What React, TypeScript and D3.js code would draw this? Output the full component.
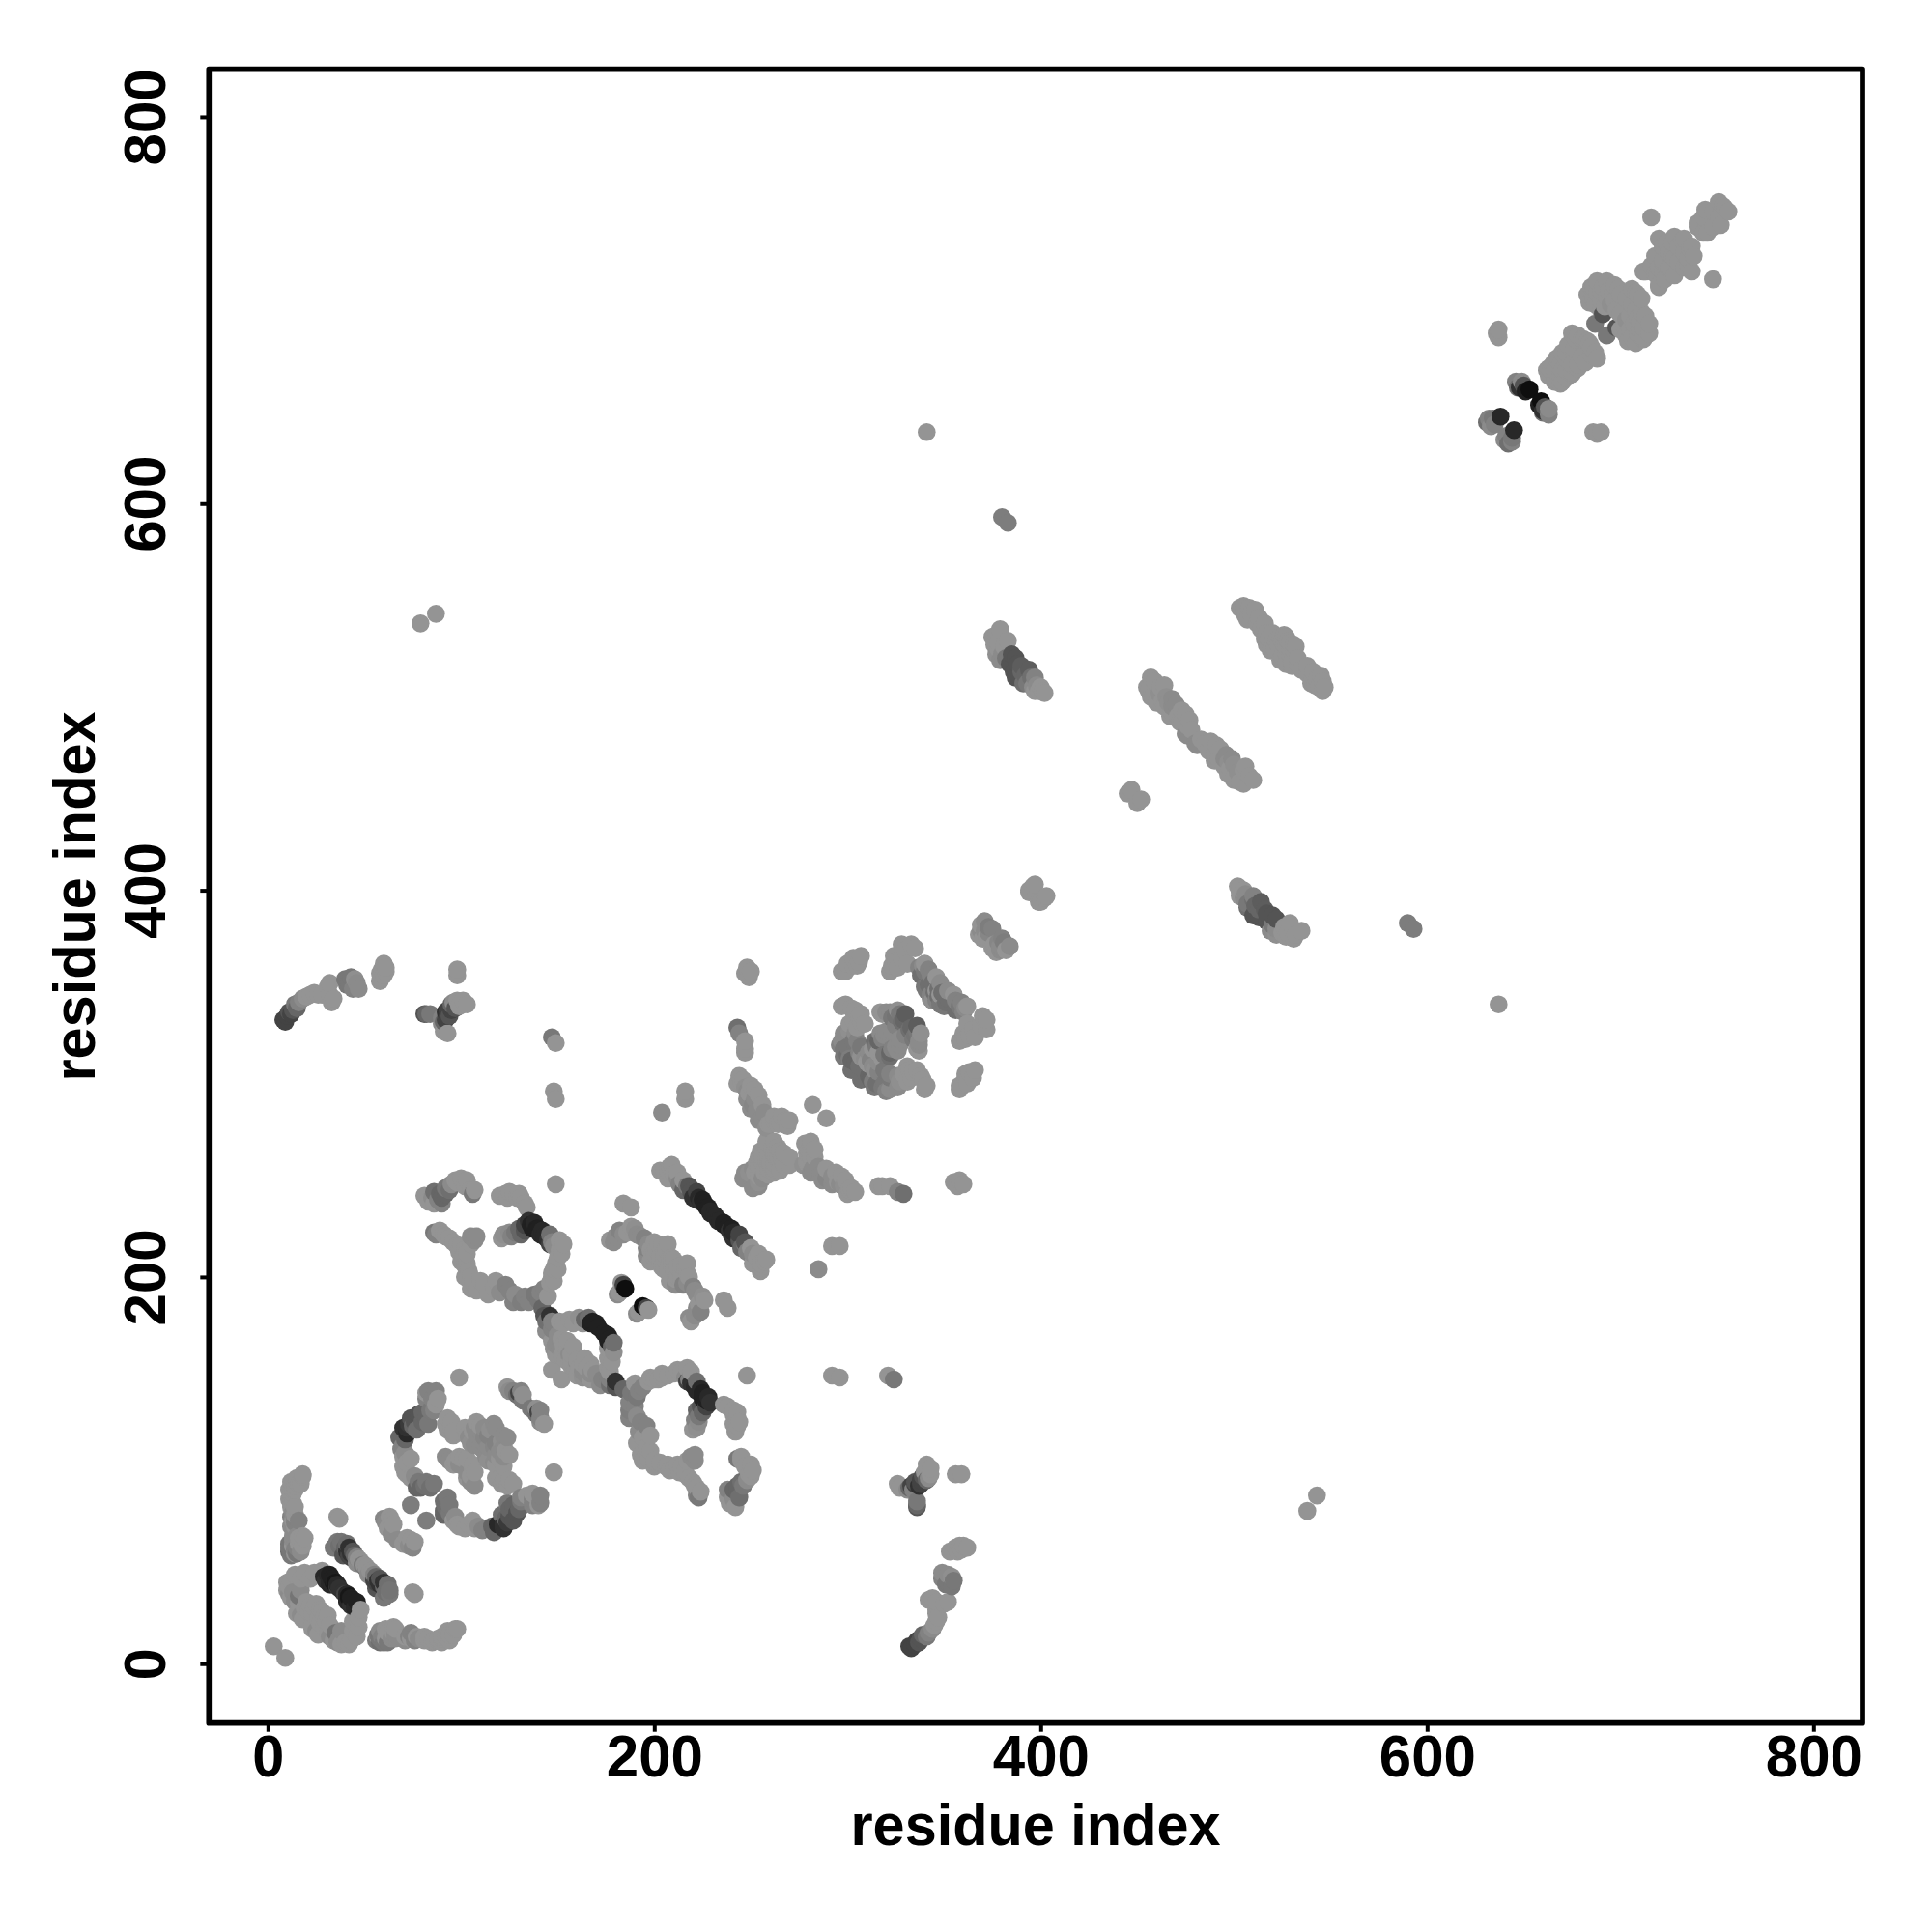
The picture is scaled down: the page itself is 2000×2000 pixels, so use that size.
import { useEffect, useRef } from "react";
import * as d3 from "d3";

// [residue i, residue j, darkness 0..1], i < j, the map is symmetric
type Contact = [number, number, number];

const tickValues = [0, 200, 400, 600, 800];
const axisTitle = "residue index";

const earlyContacts: Contact[] = [
  [3, 9, 0], [10, 42, 0], [14, 46, 0], [19, 47, 0], [24, 47, 0], [11, 40, 0], [12, 34, 0], [16, 35, 0.35],
  [16, 31, 0], [18, 23, 0], [15, 26, 0], [20, 32, 0], [25, 31, 0], [23, 26, 0], [19, 29, 0],
  [22, 44, 0], [17, 44, 0], [12, 43, 0], [10, 38, 0], [13, 37, 0.1], [14, 32, 0.1], [17, 25, 0.1], [20, 23, 0],
  [21, 27, 0], [22, 30, 0], [24, 29, 0], [27, 28, 0], [17, 38, 0.1], [11, 36, 0.1],
  [28, 48, 0], [31, 46, 0.85], [33, 44, 0.9], [35, 42, 0.95], [30, 43, 0.8], [32, 41, 0.85], [36, 40, 0.7],
  [29, 45, 0.85], [32, 46, 0.9], [34, 42, 0.95], [34, 43, 0.9], [33, 41, 0.85], [36, 41, 0.85], [37, 39, 0.8],
  [36, 76, 0], [37, 75, 0], [36, 63, 0.3], [38, 63, 0.35], [34, 60, 0.3], [41, 62, 0.4], [41, 58, 0.8],
  [43, 57, 0.8], [39, 56, 0.6], [45, 56, 0.5], [47, 54, 0.02], [50, 51, 0.02],
  [37, 61, 0.4], [40, 60, 0.5], [42, 60, 0.8], [42, 56, 0.7], [44, 58, 0.6], [46, 55, 0.2], [46, 52, 0.1],
  [48, 53, 0.02], [49, 51, 0.3], [43, 55, 0.7],
  [18, 98, 0], [15, 96, 0], [12, 94, 0], [11, 90, 0], [11, 85, 0], [14, 81, 0], [14, 76, 0.2], [14, 73, 0.2],
  [19, 65, 0], [12, 61, 0.3], [14, 59, 0.2], [17, 58, 0.1], [16, 62, 0],
  [13, 88, 0], [12, 83, 0], [13, 78, 0.1], [16, 74, 0.2], [17, 93, 0], [14, 90, 0], [13, 64, 0.1], [15, 60, 0.2],
  [12, 59, 0.3], [15, 57, 0.3], [16, 65, 0], [18, 61, 0], [16, 93, 0],
  [18, 97, 0], [14, 92, 0], [12, 88, 0], [12, 81, 0], [14, 77, 0], [14, 71, 0], [18, 66, 0], [13, 61, 0], [14, 57, 0],
  [13, 66, 0.1], [11, 62, 0.3], [11, 58, 0.4], [15, 66, 0.1], [11, 60, 0.3], [13, 58, 0.3], [12, 56, 0.3],
  [13, 74, 0], [12, 71, 0.1], [12, 76, 0.2], [13, 83, 0], [12, 86, 0], [13, 90, 0], [15, 94, 0],
  [63, 76, 0], [60, 75, 0.15], [65, 72, 0], [62, 70, 0], [64, 67, 0.1], [74, 82, 0.25], [61, 73, 0.1], [64, 74, 0],
];

const ringContacts: Contact[] = [
  [83, 141, 0.2], [87, 141, 0.2], [82, 140, 0], [87, 134, 0], [84, 131, 0.3], [78, 129, 0.6], [82, 127, 0.5],
  [74, 127, 0.6], [70, 122, 0.8], [72, 119, 0.85], [77, 121, 0.4], [83, 124, 0.3], [68, 117, 0.5], [70, 113, 0.2],
  [74, 106, 0], [70, 102, 0], [70, 107, 0], [74, 96, 0], [78, 94, 0.3], [77, 91, 0.5], [84, 91, 0.4], [82, 94, 0.3],
  [82, 137, 0.2], [85, 137, 0.2], [88, 137, 0], [86, 131, 0.2], [80, 130, 0.5], [76, 125, 0.6], [73, 124, 0.75],
  [72, 122, 0.8], [75, 123, 0.5], [80, 125, 0.5], [71, 116, 0.5], [69, 111, 0.2], [71, 109, 0.1], [72, 104, 0],
  [71, 99, 0], [72, 98, 0], [76, 97, 0.1], [81, 92, 0.4], [79, 91, 0.5], [86, 93, 0.3],
  [95, 122, 0], [93, 127, 0], [96, 118, 0], [97, 105, 0], [94, 105, 0.1], [101, 106, 0], [107, 122, 0.1],
  [110, 123, 0], [117, 124, 0.1], [105, 114, 0.05], [112, 117, 0.15], [103, 118, 0], [112, 114, 0.1],
  [93, 121, 0], [95, 125, 0], [92, 124, 0], [96, 120, 0], [92, 107, 0.1], [96, 103, 0], [99, 103, 0.1], [103, 106, 0],
  [99, 107, 0], [106, 120, 0], [108, 125, 0], [112, 122, 0.1], [115, 121, 0.05], [118, 122, 0.1], [104, 117, 0.1],
  [108, 118, 0.1], [107, 113, 0.1], [110, 112, 0.1], [114, 118, 0.2], [102, 122, 0], [110, 120, 0.1],
  [124, 143, 0], [127, 141, 0.2], [132, 139, 0.05], [130, 140, 0.7], [99, 148, 0], [147, 152, 0],
  [125, 141, 0.1], [129, 139, 0.4], [131, 141, 0.2], [132, 136, 0.3],
];

const middleContacts: Contact[] = [
  [105, 194, 0], [112, 196, 0], [117, 194, 0], [123, 196, 0.2], [128, 191, 0.1], [131, 187, 0.25], [138, 191, 0.3],
  [143, 194, 0.2], [147, 200, 0], [142, 184, 0.5], [146, 180, 0.8], [148, 176, 0.2], [156, 178, 0], [161, 179, 0.05],
  [102, 200, 0], [106, 197, 0], [108, 193, 0], [110, 198, 0], [114, 191, 0], [118, 198, 0], [120, 192, 0.1],
  [125, 193, 0.2], [127, 187, 0.2], [133, 190, 0.2], [135, 187, 0.2], [140, 188, 0.3], [141, 192, 0.2], [145, 190, 0],
  [146, 197, 0], [148, 198, 0],
  [166, 179, 0.4], [168, 177, 0.9], [170, 176, 0.9], [144, 172, 0.1], [147, 177, 0.2], [151, 177, 0],
  [143, 180, 0.6], [144, 177, 0.4], [147, 173, 0.2], [153, 176, 0], [158, 176, 0], [163, 176, 0], [164, 178, 0.5],
  [167, 176, 0.9], [171, 174, 0.9],
  [147, 167, 0], [155, 167, 0], [158, 164, 0], [153, 161, 0], [151, 163, 0.1], [152, 159, 0], [156, 157, 0],
  [149, 165, 0.1], [150, 170, 0.1], [152, 168, 0], [155, 163, 0], [157, 160, 0], [149, 160, 0], [148, 163, 0.05],
  [154, 157, 0], [153, 165, 0], [150, 167, 0.1], [156, 160, 0.1],
  [183, 197, 0], [182, 192, 0], [181, 191, 0.1], [185, 194, 1], [184, 196, 0.7],
  [81, 242, 0], [85, 241, 0.1], [88, 240, 0.2], [92, 243, 0.5], [94, 245, 0.4], [97, 250, 0], [100, 251, 0],
  [103, 250, 0], [106, 243, 0.3], [107, 245, 0], [123, 243, 0], [127, 243, 0], [131, 241, 0], [134, 236, 0],
  [86, 244, 0.4], [89, 243, 0.5], [90, 241, 0.5], [92, 246, 0.3], [95, 248, 0.1], [98, 249, 0], [102, 247, 0],
  [105, 245, 0], [83, 239, 0], [86, 238, 0], [90, 238, 0.2], [125, 244, 0], [129, 241, 0], [133, 238, 0],
  [130, 243, 0], [124, 241, 0], [120, 242, 0],
  [121, 220, 0], [125, 223, 0.1], [130, 225, 0.5], [133, 227, 0.7], [136, 227, 0.9], [139, 225, 0.9], [141, 222, 0.85],
  [145, 219, 0.8], [153, 217, 0], [151, 214, 0], [149, 207, 0], [147, 202, 0], [149, 248, 0],
  [135, 229, 0.8], [138, 228, 0.85], [140, 225, 0.9], [137, 225, 0.9], [142, 224, 0.85], [143, 221, 0.85],
  [146, 217, 0.7], [146, 222, 0.4], [151, 219, 0], [148, 216, 0.1], [152, 212, 0], [150, 210, 0], [148, 204, 0],
  [150, 204, 0], [147, 218, 0.2], [126, 221, 0.2], [122, 222, 0.05], [128, 223, 0.3], [131, 222, 0.5], [133, 224, 0.6],
  [184, 238, 0], [188, 236, 0], [177, 219, 0], [182, 224, 0.2], [186, 223, 0], [191, 222, 0.1], [195, 220, 0.2], [198, 214, 0],
  [180, 221, 0.1], [179, 218, 0.1], [184, 222, 0.1], [188, 226, 0], [193, 221, 0.1], [190, 225, 0.05], [197, 217, 0.1],
  [200, 218, 0], [196, 211, 0.1], [199, 211, 0], [201, 214, 0], [204, 216, 0], [206, 214, 0], [198, 208, 0],
  [205, 209, 0], [210, 209, 0], [203, 210, 0], [204, 205, 0],
  [86, 223, 0.3], [89, 224, 0], [94, 220, 0], [98, 216, 0], [107, 219, 0.1], [103, 212, 0], [102, 206, 0],
  [87, 222, 0.2], [91, 222, 0], [96, 218, 0], [92, 221, 0], [99, 213, 0], [101, 210, 0], [100, 216, 0], [103, 207, 0],
  [105, 217, 0], [108, 221, 0.1], [105, 221, 0.1], [104, 203, 0], [105, 200, 0], [100, 208, 0], [102, 214, 0],
  [200, 212, 0], [205, 212, 0], [203, 207, 0], [207, 217, 0], [202, 217, 0], [208, 209, 0], [196, 215, 0.2],
  [208, 257, 0], [205, 255, 0], [212, 254, 0], [207, 251, 0], [215, 250, 0], [217, 247, 0.3], [219, 244, 0.6],
  [222, 244, 0.7], [224, 239, 0.8], [227, 236, 0.9], [229, 234, 0.85], [216, 296, 0], [216, 292, 0], [204, 285, 0.1],
  [207, 255, 0], [210, 253, 0], [209, 258, 0], [212, 251, 0.1], [213, 248, 0.2], [215, 245, 0.5], [218, 247, 0.6],
  [220, 241, 0.8], [223, 241, 0.85], [225, 240, 0.9], [226, 238, 0.9], [228, 236, 0.9], [222, 240, 0.8],
  [229, 233, 0.85], [231, 232, 0.85], [203, 255, 0],
];

const longRangeContacts: Contact[] = [
  [8, 333, 0.7], [10, 335, 0.7], [12, 336, 0.7], [15, 339, 0.5], [18, 344, 0.1], [22, 346, 0], [26, 346, 0],
  [32, 352, 0], [33, 342, 0], [43, 355, 0.3], [47, 349, 0.1], [41, 351, 0.3], [45, 354, 0.05], [60, 362, 0], [59, 359, 0], [58, 353, 0],
  [11, 337, 0.6], [13, 338, 0.6], [9, 332, 0.7], [14, 341, 0.3], [16, 342, 0.2], [20, 345, 0], [24, 347, 0], [28, 346, 0],
  [31, 350, 0], [32, 346, 0], [34, 344, 0], [42, 352, 0.3], [44, 349, 0.2], [46, 352, 0.1], [40, 354, 0.3],
  [60, 356, 0], [61, 360, 0], [58, 357, 0], [61, 358, 0],
  [98, 356, 0], [98, 359, 0], [81, 336, 0.6], [84, 336, 0.3], [93, 335, 0.7], [92, 337, 0.8], [95, 341, 0.5],
  [98, 343, 0], [103, 341, 0], [93, 326, 0], [90, 331, 0.1], [97, 339, 0.6], [147, 324, 0.3], [149, 321, 0],
  [82, 336, 0.5], [92, 333, 0.7], [91, 332, 0.5], [93, 338, 0.7], [94, 335, 0.6], [95, 338, 0.7], [96, 342, 0.1],
  [99, 340, 0], [101, 343, 0], [91, 327, 0], [90, 334, 0.2],
  [148, 296, 0], [149, 292, 0], [79, 538, 0], [87, 543, 0], [341, 637, 0], [380, 593, 0.25], [383, 590, 0.25],
];

const domainContacts: Contact[] = [
  [248, 360, 0], [249, 355, 0], [243, 329, 0.4], [244, 326, 0.2], [247, 322, 0], [247, 318, 0], [247, 316, 0],
  [247, 357, 0], [250, 358, 0],
  [244, 304, 0], [245, 301, 0], [247, 298, 0.05], [252, 297, 0], [248, 292, 0.1], [256, 289, 0], [250, 287, 0.1],
  [254, 281, 0.1], [262, 281, 0], [268, 281, 0], [259, 279, 0], [269, 278, 0], [282, 289, 0],
  [246, 302, 0], [243, 300, 0], [248, 296, 0.1], [250, 299, 0], [249, 295, 0], [252, 292, 0.1], [254, 294, 0],
  [251, 289, 0.15], [253, 286, 0.1], [257, 285, 0.1], [256, 282, 0.1], [260, 279, 0], [264, 279, 0], [266, 283, 0],
  [270, 281, 0], [265, 280, 0], [262, 283, 0], [258, 277, 0.05],
  [258, 267, 0], [261, 266, 0], [246, 251, 0.1], [253, 259, 0], [257, 254, 0], [259, 262, 0],
  [255, 265, 0], [258, 270, 0], [262, 270, 0], [256, 262, 0], [252, 254, 0], [249, 254, 0.05], [247, 254, 0.1],
  [254, 262, 0], [260, 258, 0], [256, 259, 0], [262, 263, 0], [251, 256, 0.1], [264, 267, 0], [265, 265, 0],
  [259, 260, 0], [262, 264, 0],
  [297, 340, 0], [302, 339, 0], [307, 336, 0], [307, 332, 0], [305, 329, 0], [317, 337, 0], [327, 336, 0.3],
  [330, 336, 0.55], [322, 337, 0.1], [301, 327, 0.05], [297, 322, 0.1], [300, 319, 0.3], [298, 314, 0.3],
  [305, 322, 0.2], [304, 311, 0.5], [307, 314, 0.05], [317, 326, 0.1], [316, 322, 0.5], [313, 318, 0],
  [302, 307, 0.4], [310, 311, 0], [316, 316, 0], [323, 327, 0.1], [326, 338, 0.05], [301, 313, 0.25], [306, 316, 0.2],
  [299, 341, 0], [304, 338, 0], [306, 334, 0], [309, 331, 0], [303, 333, 0], [301, 331, 0], [304, 326, 0.1],
  [298, 326, 0.1], [296, 320, 0.2], [298, 318, 0.3], [300, 315, 0.4], [302, 312, 0.5], [303, 322, 0.3], [307, 319, 0.3],
  [306, 309, 0.4], [309, 313, 0.1], [311, 316, 0.1], [312, 312, 0.2], [315, 319, 0.3], [318, 323, 0.2], [319, 325, 0.1],
  [320, 327, 0.1], [325, 335, 0.35], [329, 333, 0.5], [328, 332, 0.4], [325, 330, 0.2], [314, 322, 0.4], [318, 336, 0],
  [320, 337, 0.1], [323, 334, 0.3],
  [303, 365, 0], [307, 366, 0], [297, 358, 0], [305, 361, 0], [300, 362, 0], [299, 358, 0], [303, 361, 0], [306, 363, 0],
  [328, 372, 0], [333, 372, 0], [322, 358, 0], [323, 361, 0], [328, 365, 0],
  [335, 370, 0], [330, 369, 0], [325, 363, 0], [326, 360, 0], [331, 362, 0], [324, 366, 0],
  [339, 361, 0.1], [342, 359, 0.2], [346, 355, 0], [338, 356, 0.4], [340, 350, 0.3], [347, 349, 0.4], [344, 343, 0.05], [342, 351, 0.4],
  [340, 358, 0.3], [343, 356, 0.2], [344, 352, 0.4], [341, 348, 0.3], [345, 347, 0.4], [348, 352, 0.1], [343, 346, 0.2],
  [346, 348, 0], [337, 360, 0.2], [340, 362, 0],
  [369, 382, 0], [373, 381, 0.25], [370, 375, 0], [373, 378, 0.15], [368, 377, 0],
  [371, 384, 0.1], [371, 379, 0.1], [375, 380, 0.2], [372, 376, 0], [369, 379, 0.1],
  [394, 399, 0], [396, 402, 0], [397, 403, 0], [394, 400, 0],
];

const laterContacts: Contact[] = [
  [379, 535, 0], [375, 531, 0], [383, 529, 0], [376, 527, 0], [379, 519, 0.1], [387, 520, 0.6], [384, 517, 0.6],
  [394, 514, 0.55], [390, 513, 0.5], [397, 510, 0.2], [400, 505, 0], [397, 503, 0], [401, 503, 0], [387, 510, 0.6], [391, 507, 0.4],
  [377, 532, 0], [378, 528, 0], [381, 526, 0], [380, 522, 0.1], [382, 520, 0.3], [385, 522, 0.6], [388, 517, 0.6],
  [386, 513, 0.6], [390, 516, 0.55], [392, 511, 0.5], [395, 510, 0.4], [393, 507, 0.3], [398, 506, 0.1], [396, 505, 0.1],
  [399, 503, 0], [402, 502, 0], [377, 522, 0.05], [378, 525, 0],
  [457, 510, 0], [464, 506, 0], [457, 500, 0], [460, 497, 0], [468, 499, 0.1], [467, 490, 0], [475, 491, 0],
  [476, 485, 0], [476, 480, 0.1], [481, 475, 0.1], [468, 495, 0.1], [473, 487, 0],
  [455, 505, 0], [456, 503, 0], [459, 508, 0], [462, 505, 0], [458, 500, 0], [461, 502, 0.05], [463, 498, 0],
  [465, 500, 0.05], [464, 495, 0], [466, 497, 0.05], [470, 496, 0.1], [468, 492, 0], [471, 490, 0], [473, 493, 0],
  [472, 487, 0], [477, 488, 0], [478, 483, 0],
  [447, 452, 0], [445, 450, 0],
  [503, 546, 0], [508, 546, 0], [511, 545, 0], [507, 540, 0], [516, 538, 0], [517, 533, 0], [517, 527, 0],
  [527, 531, 0], [522, 529, 0], [532, 526, 0], [526, 527, 0], [519, 524, 0],
  [505, 544, 0], [509, 543, 0], [513, 541, 0], [512, 538, 0], [514, 535, 0], [518, 530, 0], [520, 533, 0], [516, 530, 0],
  [524, 531, 0], [521, 525, 0], [523, 527, 0], [529, 528, 0], [525, 529, 0], [505, 547, 0], [506, 542, 0],
];

const terminalContacts: Contact[] = [
  [637, 690, 0], [637, 686, 0], [636, 688, 0],
  [634, 644, 0.3], [638, 645, 0.85], [633, 640, 0.1], [631, 642, 0.4], [635, 641, 0.2], [632, 644, 0.2],
  [649, 663, 0.1], [646, 663, 0.2], [648, 660, 0.8], [651, 658, 0.9], [653, 659, 1], [647, 660, 0.4], [650, 661, 0.6],
  [664, 669, 0], [668, 675, 0], [670, 663, 0], [665, 672, 0], [672, 678, 0], [669, 670, 0],
  [662, 669, 0], [670, 678, 0], [667, 675, 0], [669, 672, 0], [673, 682, 0], [677, 685, 0], [672, 675, 0],
  [676, 680, 0], [681, 685, 0], [663, 666, 0], [666, 669, 0],
  [678, 687, 0], [675, 688, 0], [680, 685, 0], [687, 693, 0.3], [683, 684, 0],
  [688, 715, 0], [693, 715, 0], [685, 712, 0], [686, 706, 0], [690, 710, 0], [697, 713, 0],
  [683, 708, 0], [686, 712, 0], [688, 709, 0], [691, 712, 0], [694, 710, 0], [687, 703, 0], [690, 705, 0],
  [693, 707, 0], [696, 709, 0], [699, 711, 0], [684, 704, 0], [692, 702, 0], [690, 700, 0], [700, 708, 0], [703, 706, 0],
  [695, 703, 0.05], [691, 698, 0.6], [698, 700, 0], [706, 711, 0], [708, 709, 0], [697, 705, 0],
  [716, 748, 0], [724, 735, 0], [732, 736, 0], [727, 735, 0], [722, 726, 0], [713, 720, 0], [720, 722, 0], [727, 728, 0],
  [712, 720, 0], [716, 723, 0], [718, 728, 0], [722, 733, 0], [720, 737, 0], [728, 738, 0], [733, 737, 0], [725, 730, 0],
  [730, 733, 0], [718, 719, 0], [722, 725, 0],
  [751, 756, 0], [743, 748, 0], [740, 745, 0], [748, 751, 0], [740, 743, 0], [744, 752, 0], [753, 754, 0],
];

const allContacts = [
  ...earlyContacts,
  ...ringContacts,
  ...middleContacts,
  ...longRangeContacts,
  ...domainContacts,
  ...laterContacts,
  ...terminalContacts,
];

const labelFont = "'Liberation Sans', Arial, sans-serif";

export default function App() {
  const svgRef = useRef<SVGSVGElement>(null);

  useEffect(() => {
    if (!svgRef.current) return;
    const svg = d3.select(svgRef.current);
    svg.selectAll("*").remove();

    const left = 216.3;
    const right = 1928;
    const top = 71.7;
    const bottom = 1783.7;

    const x = d3.scaleLinear().domain([-30.5, 825.35]).range([left, right]);
    const y = d3.scaleLinear().domain([-30.7, 824.6]).range([bottom, top]);
    const shade = d3.scaleLinear<string>().domain([0, 0.5, 1]).range(["#949494", "#666666", "#0e0e0e"]);

    // both halves of the map, painted in residue order like the original
    const points = allContacts
      .flatMap(([i, j, d]) => [
        { x: i, y: j, d },
        { x: j, y: i, d },
      ])
      .sort((a, b) => d3.ascending(a.x, b.x) || d3.ascending(a.y, b.y));

    svg
      .append("g")
      .selectAll("circle")
      .data(points)
      .enter()
      .append("circle")
      .attr("cx", (d) => x(d.x))
      .attr("cy", (d) => y(d.y))
      .attr("r", 9.3)
      .attr("fill", (d) => shade(d.d));

    const styleAxis = (g: any) => {
      g.select(".domain").remove();
      g.selectAll("line").attr("stroke", "#000").attr("stroke-width", 4);
      g.selectAll("text")
        .attr("fill", "#000")
        .attr("font-family", labelFont)
        .attr("font-weight", "bold")
        .attr("font-size", 62)
        .attr("lengthAdjust", "spacingAndGlyphs")
        .attr("textLength", (d: number) => (d === 0 ? 33 : 100));
    };

    const xAxis = svg
      .append("g")
      .attr("transform", `translate(0, ${bottom})`)
      .call(d3.axisBottom(x).tickValues(tickValues).tickFormat(d3.format("d")).tickSize(9).tickPadding(0));
    styleAxis(xAxis);
    xAxis.selectAll("text").attr("y", 55).attr("dy", 0);

    const yAxis = svg
      .append("g")
      .attr("transform", `translate(${left}, 0)`)
      .call(d3.axisLeft(y).tickValues(tickValues).tickFormat(d3.format("d")).tickSize(9).tickPadding(0));
    styleAxis(yAxis);
    yAxis
      .selectAll("text")
      .attr("dy", 0)
      .attr("x", 0)
      .attr("text-anchor", "middle")
      .attr("transform", "translate(-45, 0) rotate(-90)");

    svg
      .append("rect")
      .attr("x", left)
      .attr("y", top)
      .attr("width", right - left)
      .attr("height", bottom - top)
      .attr("fill", "none")
      .attr("stroke", "#000")
      .attr("stroke-width", 5.7)
      .attr("stroke-linejoin", "round");

    svg
      .append("text")
      .attr("x", 1072)
      .attr("y", 1910)
      .attr("text-anchor", "middle")
      .attr("font-family", labelFont)
      .attr("font-weight", "bold")
      .attr("font-size", 62)
      .attr("lengthAdjust", "spacingAndGlyphs")
      .attr("textLength", 383)
      .text(axisTitle);

    svg
      .append("text")
      .attr("transform", "translate(98, 928) rotate(-90)")
      .attr("text-anchor", "middle")
      .attr("font-family", labelFont)
      .attr("font-weight", "bold")
      .attr("font-size", 62)
      .attr("lengthAdjust", "spacingAndGlyphs")
      .attr("textLength", 383)
      .text(axisTitle);
  }, []);

  return (
    <svg
      ref={svgRef}
      width={2000}
      height={2000}
      style={{ position: "absolute", left: 0, top: 0, background: "#fff" }}
    />
  );
}
